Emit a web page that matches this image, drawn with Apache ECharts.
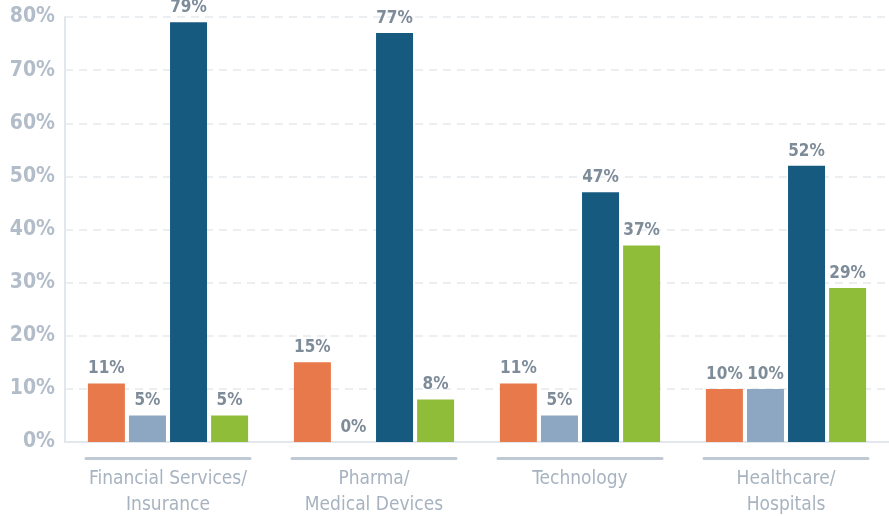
<!DOCTYPE html>
<html>
<head>
<meta charset="utf-8">
<script src="https://cdn.jsdelivr.net/npm/echarts@6/dist/echarts.min.js"></script>
<style>
  html, body { margin: 0; padding: 0; background: #ffffff; }
  #chart { width: 889px; height: 516px; }
</style>
</head>
<body>
<div id="chart"></div>
<script>
// Industry groups along the x axis
const categories = ['Financial Services/\nInsurance', 'Pharma/\nMedical Devices', 'Technology', 'Healthcare/\nHospitals'];

// Percentages per series, one value per industry
const seriesOrange = [11, 15, 11, 10];
const seriesLightBlue = [5, 0, 5, 10];
const seriesDarkBlue = [79, 77, 47, 52];
const seriesGreen = [5, 8, 37, 29];

// Y axis ticks (percent)
const yTicks = [0, 10, 20, 30, 40, 50, 60, 70, 80];

const FONT = '"Liberation Sans Narrow", "DejaVu Sans Condensed", "Roboto", sans-serif';

const colors = ['#e8794a', '#8da7c2', '#175a80', '#8fbd3a'];

function barSeries(data, color) {
  return {
    type: 'bar',
    data: data,
    barWidth: 37,
    barGap: '11%',
    itemStyle: { color: color },
    label: {
      show: true,
      position: 'top',
      distance: 6,
      formatter: '{c}%',
      fontFamily: FONT,
      fontWeight: 'bold',
      fontSize: 17,
      color: '#7e8b99'
    }
  };
}

const chart = echarts.init(document.getElementById('chart'));
chart.setOption({
  animation: false,
  grid: { left: 65, right: 0, top: 17, bottom: 74, containLabel: false },
  xAxis: {
    type: 'category',
    data: categories,
    axisLine: { show: true, lineStyle: { color: '#e1e7ed', width: 2 } },
    axisTick: { show: false },
    axisLabel: {
      margin: 15,
      interval: 0,
      formatter: function (v) {
        const lines = v.split('\n').map(function (s) { return '{name|' + s + '}'; });
        return '{rule|}\n' + lines.join('\n');
      },
      rich: {
        rule: { width: 167, height: 3, backgroundColor: '#bfc9d4', borderRadius: 1.5 },
        name: {
          fontFamily: FONT,
          fontSize: 19,
          color: '#a7b3c0',
          lineHeight: 26,
          padding: [6, 0, -6, 0]
        }
      }
    }
  },
  yAxis: {
    type: 'value',
    min: 0,
    max: 80,
    interval: 10,
    axisLine: { show: true, lineStyle: { color: '#e1e7ed', width: 2 } },
    axisTick: { show: false },
    splitLine: { show: true, lineStyle: { color: '#e6eaee', type: [8, 6], width: 1.5 } },
    axisLabel: {
      margin: 10,
      fontFamily: FONT,
      fontSize: 21,
      fontWeight: 'bold',
      color: '#b2bdc9',
      formatter: function (v) { return yTicks.indexOf(v) >= 0 ? v + '%' : ''; }
    }
  },
  series: [
    barSeries(seriesOrange, colors[0]),
    barSeries(seriesLightBlue, colors[1]),
    barSeries(seriesDarkBlue, colors[2]),
    barSeries(seriesGreen, colors[3])
  ]
});
</script>
</body>
</html>
